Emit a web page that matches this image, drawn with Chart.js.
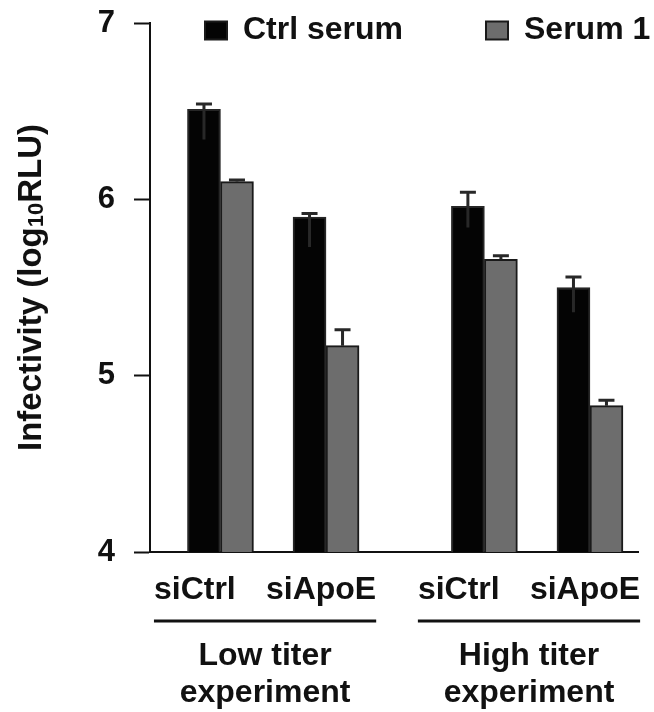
<!DOCTYPE html>
<html><head><meta charset="utf-8">
<script src="https://cdn.jsdelivr.net/npm/chart.js@4/dist/chart.umd.min.js"></script>
<style>html,body{margin:0;padding:0;background:#fff}canvas{display:block}</style>
</head><body>
<canvas id="c" width="654" height="712"></canvas>
<script>
// ---- data ----
const experiments = ['Low titer', 'High titer'];
const experimentSub = 'experiment';
const conditions = ['siCtrl', 'siApoE'];
const seriesNames = ['Ctrl serum', 'Serum 1'];
const ctrlSerum        = [6.51, 5.90, 5.96, 5.50];
const ctrlSerumErrUp   = [6.54, 5.92, 6.04, 5.56];
const ctrlSerumErrDown = [6.34, 5.73, 5.84, 5.36];
const serum1           = [6.10, 5.17, 5.66, 4.83];
const serum1ErrUp      = [6.11, 5.26, 5.68, 4.86];
const serum1ErrDown    = [6.10, 5.17, 5.66, 4.83];
const yTicks = [4, 5, 6, 7];
const yTitleMain = 'Infectivity (log';
const yTitleSub = '10';
const yTitleEnd = 'RLU)';

// ---- layout helpers ----
const FONT = "'Liberation Sans', Arial, sans-serif";
const INK = '#111';
// slot positions on the x scale: conditions within an experiment are 2 apart, experiments 5 apart
const slotPos = [];
experiments.forEach((e, ei) => conditions.forEach((c, ci) => slotPos.push(ei * 5 + ci * 2)));

function toPoints(vals) { return vals.map((v, i) => ({ x: slotPos[i], y: v })); }

const errData = [
  { up: ctrlSerumErrUp, down: ctrlSerumErrDown },
  { up: serum1ErrUp, down: serum1ErrDown }
];

const errorBars = {
  id: 'errorBars',
  afterDatasetsDraw(chart) {
    const ctx = chart.ctx, y = chart.scales.y;
    ctx.save();
    ctx.strokeStyle = '#282828';
    ctx.lineWidth = 3;
    chart.data.datasets.forEach((ds, di) => {
      const meta = chart.getDatasetMeta(di);
      meta.data.forEach((bar, i) => {
        const yu = y.getPixelForValue(errData[di].up[i]);
        const yd = y.getPixelForValue(errData[di].down[i]);
        ctx.beginPath();
        ctx.moveTo(bar.x, yd);
        ctx.lineTo(bar.x, yu);
        ctx.moveTo(bar.x - 8, yu);
        ctx.lineTo(bar.x + 8, yu);
        ctx.stroke();
      });
    });
    ctx.restore();
  }
};

const decorations = {
  id: 'decorations',
  afterDraw(chart) {
    const ctx = chart.ctx, xs = chart.scales.x, area = chart.chartArea;
    ctx.save();
    ctx.fillStyle = INK;
    // legend
    const legendX = [205, 486];
    chart.data.datasets.forEach((ds, di) => {
      const lx = legendX[di];
      ctx.fillStyle = ds.backgroundColor;
      ctx.fillRect(lx, 21.5, 22, 18);
      ctx.strokeStyle = '#1a1a1a';
      ctx.lineWidth = 2;
      ctx.strokeRect(lx, 21.5, 22, 18);
      ctx.fillStyle = INK;
      ctx.font = 'bold 32px ' + FONT;
      ctx.textAlign = 'left';
      ctx.textBaseline = 'alphabetic';
      ctx.fillText(ds.label, lx + 38, 38.5);
    });
    // x labels, group lines and group titles
    experiments.forEach((exp, ei) => {
      const first = slotPos[ei * conditions.length];
      const last = slotPos[ei * conditions.length + conditions.length - 1];
      const L = xs.getPixelForValue(first - 1.26);
      const R = xs.getPixelForValue(last + 0.95);
      ctx.font = 'bold 32px ' + FONT;
      ctx.textBaseline = 'alphabetic';
      ctx.textAlign = 'left';
      ctx.fillText(conditions[0], L, 598.5);
      ctx.textAlign = 'right';
      ctx.fillText(conditions[conditions.length - 1], R, 598.5);
      ctx.fillRect(L, 619.5, R - L, 3);
      ctx.textAlign = 'center';
      ctx.fillText(exp, (L + R) / 2, 665);
      ctx.fillText(experimentSub, (L + R) / 2, 702);
    });
    // y title with subscript
    const fMain = 'bold 33px ' + FONT, fSub = 'bold 22px ' + FONT;
    ctx.font = fMain;
    const w1 = ctx.measureText(yTitleMain).width;
    const w3 = ctx.measureText(yTitleEnd).width;
    ctx.font = fSub;
    const w2 = ctx.measureText(yTitleSub).width;
    const total = w1 + w2 + w3;
    ctx.translate(41, (area.top + area.bottom) / 2);
    ctx.rotate(-Math.PI / 2);
    ctx.textAlign = 'left';
    ctx.textBaseline = 'alphabetic';
    let cx = -total / 2;
    ctx.font = fMain; ctx.fillText(yTitleMain, cx, 0); cx += w1;
    ctx.font = fSub; ctx.fillText(yTitleSub, cx, 2); cx += w2;
    ctx.font = fMain; ctx.fillText(yTitleEnd, cx, 0);
    ctx.restore();
  }
};

new Chart(document.getElementById('c'), {
  type: 'bar',
  data: {
    datasets: [
      { label: seriesNames[0], data: toPoints(ctrlSerum), backgroundColor: '#040404', borderColor: '#262626', borderWidth: 2 },
      { label: seriesNames[1], data: toPoints(serum1), backgroundColor: '#6d6d6d', borderColor: '#1a1a1a', borderWidth: 2 }
    ]
  },
  options: {
    responsive: false,
    devicePixelRatio: 1,
    animation: false,
    barThickness: 33,
    layout: { padding: { top: 23, right: 16, bottom: 0, left: 0 } },
    plugins: { legend: { display: false }, tooltip: { enabled: false } },
    scales: {
      x: {
        type: 'linear',
        min: -1.335,
        max: 7.91,
        afterBuildTicks: s => { s.ticks = []; },
        ticks: { display: false },
        grid: { display: false },
        border: { display: true, color: INK, width: 2 },
        afterFit: s => { s.height = 160; s.paddingLeft = 0; s.paddingRight = 0; }
      },
      y: {
        min: 4, max: 7,
        afterBuildTicks: s => { s.ticks = yTicks.map(v => ({ value: v })); },
        ticks: { font: { family: FONT, size: 31, weight: 'bold' }, color: INK, padding: 19 },
        grid: { drawOnChartArea: false, drawTicks: true, tickLength: 16, tickColor: INK, tickWidth: 2 },
        border: { display: true, color: INK, width: 2 },
        afterFit: s => { s.width = 150; s.paddingTop = 0; s.paddingBottom = 0; }
      }
    }
  },
  plugins: [errorBars, decorations]
});
</script>
</body></html>
